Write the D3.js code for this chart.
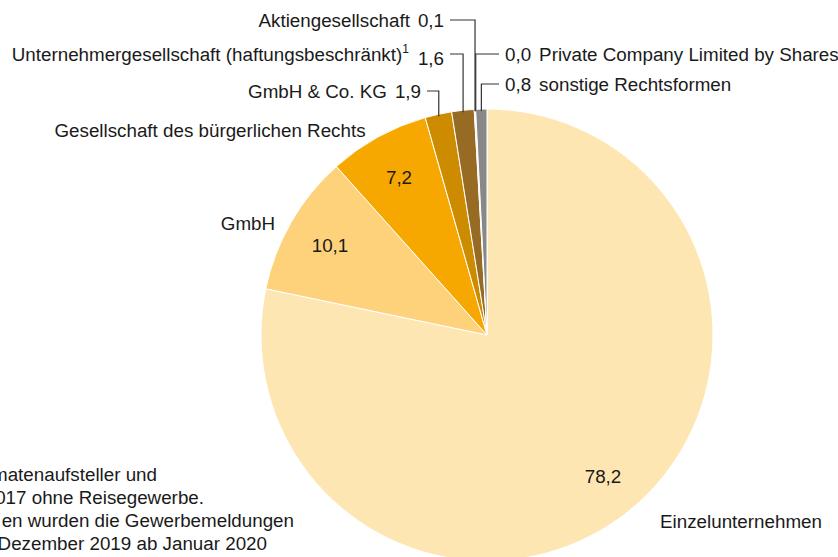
<!DOCTYPE html>
<html>
<head>
<meta charset="utf-8">
<script src="https://cdn.jsdelivr.net/npm/d3@7"></script>
<style>
  body { margin: 0; background: #fff; }
  .canvas { width: 838px; height: 557px; overflow: hidden; }
  text { font-family: "Liberation Sans", Arial, sans-serif; font-size: 18.8px; fill: #1a1a1a; }
</style>
</head>
<body>
<div class="canvas"></div>
<script>
const categories = [
  "Einzelunternehmen",
  "GmbH",
  "Gesellschaft des bürgerlichen Rechts",
  "GmbH & Co. KG",
  "Unternehmergesellschaft (haftungsbeschränkt)",
  "Aktiengesellschaft",
  "Private Company Limited by Shares",
  "sonstige Rechtsformen",
];
const values = [78.2, 10.1, 7.2, 1.9, 1.6, 0.1, 0.0, 0.8];
const valueLabels = ["78,2", "10,1", "7,2", "1,9", "1,6", "0,1", "0,0", "0,8"];
const colors = ["#fee6b2", "#fdd27a", "#f6a800", "#cd8b00", "#976b23", "#f4f4f4", "#dddddd", "#888888"];
const footnoteLines = [
  "matenaufsteller und",
  "017 ohne Reisegewerbe.",
  "en wurden die Gewerbemeldungen",
  "Dezember 2019 ab Januar 2020",
];

const width = 838;
const height = 557;
const cx = 487;
const cy = 335;
const radius = 226;

const svg = d3
  .select(".canvas")
  .append("svg")
  .attr("width", width)
  .attr("height", height);

const pie = d3.pie().sort(null).value((d) => d);
const arcs = pie(values);
const arc = d3.arc().innerRadius(0).outerRadius(radius);

const g = svg.append("g").attr("transform", `translate(${cx}, ${cy})`);

g.selectAll("path")
  .data(arcs)
  .enter()
  .append("path")
  .attr("d", arc)
  .attr("fill", (d, i) => colors[i])
  .attr("stroke", "#fff")
  .attr("stroke-width", (d) => (d.endAngle - d.startAngle > 0 ? 1 : 0));

// labels inside the big slices (offsets from centre)
const inner = [
  { i: 0, dx: 116, dy: 141 },
  { i: 1, dx: -157, dy: -90 },
  { i: 2, dx: -88, dy: -158 },
];
g.selectAll(".inner")
  .data(inner)
  .enter()
  .append("text")
  .attr("class", "inner")
  .attr("x", (d) => d.dx)
  .attr("y", (d) => d.dy)
  .attr("text-anchor", "middle")
  .attr("dy", "0.35em")
  .text((d) => valueLabels[d.i]);

// plain outside labels
const outside = [
  { i: 0, x: 741, y: 521, anchor: "middle" },
  { i: 1, x: 248, y: 223, anchor: "middle" },
  { i: 2, x: 210, y: 130, anchor: "middle" },
];
svg.selectAll(".outside")
  .data(outside)
  .enter()
  .append("text")
  .attr("class", "outside")
  .attr("x", (d) => d.x)
  .attr("y", (d) => d.y)
  .attr("dy", "0.35em")
  .attr("text-anchor", (d) => d.anchor)
  .text((d) => categories[d.i]);

// small slices with leader lines
const leaders = [
  { i: 3, y: 91, end: 427, side: "left" },
  { i: 4, y: 54, end: 450, side: "left", sup: "1" },
  { i: 5, y: 20, end: 450, side: "left" },
  { i: 6, y: 54, end: 499, side: "right" },
  { i: 7, y: 84, end: 499, side: "right" },
];

leaders.forEach((l) => {
  const a = arcs[l.i];
  const mid = (a.startAngle + a.endAngle) / 2;
  const x0 = cx + (radius - 2) * Math.sin(mid);
  const y0 = cy - (radius - 2) * Math.cos(mid);
  svg
    .append("path")
    .attr("d", `M${x0},${y0}V${l.y}H${l.end}`)
    .attr("fill", "none")
    .attr("stroke", "#333")
    .attr("stroke-width", 1.2);

  const t = svg
    .append("text")
    .attr("y", l.y)
    .attr("dy", "0.35em");
  if (l.side === "left") {
    t.attr("x", l.end - 6).attr("text-anchor", "end");
    t.append("tspan").text(categories[l.i]);
    if (l.sup) {
      t.append("tspan")
        .attr("font-size", "12px")
        .attr("dy", "-0.6em")
        .text(l.sup);
      t.append("tspan").attr("dy", "0.6em").attr("dx", 9).text(valueLabels[l.i]);
    } else {
      t.append("tspan").attr("dx", 8).text(valueLabels[l.i]);
    }
  } else {
    t.attr("x", l.end + 6).attr("text-anchor", "start");
    t.append("tspan").text(valueLabels[l.i]);
    t.append("tspan").attr("dx", 8).text(categories[l.i]);
  }
});

// footnote, cut off at the left edge (right-aligned to where each line ends)
const footEnds = [157, 204, 294, 267];
svg.selectAll(".foot")
  .data(footnoteLines)
  .enter()
  .append("text")
  .attr("class", "foot")
  .attr("x", (d, i) => footEnds[i])
  .attr("y", (d, i) => 474 + i * 23)
  .attr("dy", "0.35em")
  .attr("text-anchor", "end")
  .text((d) => d);
</script>
</body>
</html>
